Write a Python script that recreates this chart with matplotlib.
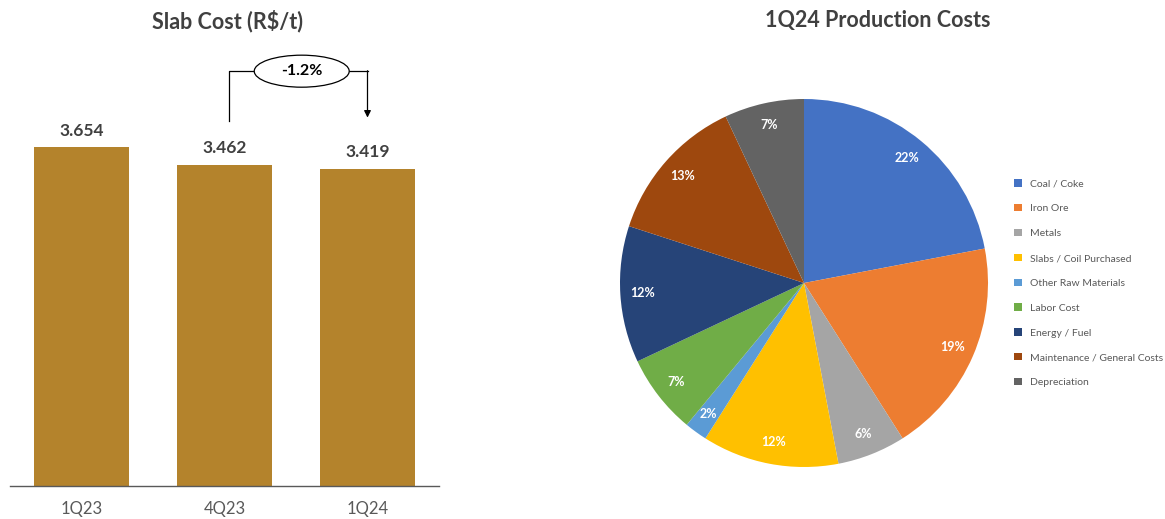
import matplotlib.pyplot as plt
from matplotlib.patches import Ellipse, Patch

plt.rcParams['font.family'] = ['Lato', 'DejaVu Sans']

# Slab cost, R$/t
quarters = ["1Q23", "4Q23", "1Q24"]
slab_cost = [3654, 3462, 3419]

# 1Q24 production cost breakdown, %
cost_items = ["Coal / Coke", "Iron Ore", "Metals", "Slabs / Coil Purchased",
              "Other Raw Materials", "Labor Cost", "Energy / Fuel",
              "Maintenance / General Costs", "Depreciation"]
cost_share = [22, 19, 6, 12, 2, 7, 12, 13, 7]
cost_colors = ["#4472C4", "#ED7D31", "#A5A5A5", "#FFC000", "#5B9BD5",
               "#70AD47", "#264478", "#9E480E", "#636363"]

W, H = 1165, 519
fig = plt.figure(figsize=(W / 100, H / 100), dpi=100)

# --- bar chart ---
ax = fig.add_axes([10 / W, 33 / H, 429 / W, 464 / H])
x = range(len(quarters))
ax.bar(x, slab_cost, width=0.66, color="#B4832C")
ax.set_xlim(-0.5, 2.5)
ax.set_ylim(0, 5000)
for xi, v in zip(x, slab_cost):
    ax.text(xi, v + 90, f"{v:,}".replace(",", "."), ha="center", va="bottom",
            fontsize=12.5, fontweight="bold", color="#404040")
ax.set_xticks(list(x))
ax.set_xticklabels(quarters, fontsize=12, color="#595959")
ax.tick_params(axis="x", length=0, pad=11)
ax.set_yticks([])
for s in ["top", "right", "left"]:
    ax.spines[s].set_visible(False)
ax.spines["bottom"].set_color("#595959")
ax.spines["bottom"].set_linewidth(1)

# change bracket 4Q23 -> 1Q24
change = (slab_cost[2] / slab_cost[1] - 1) * 100
y_top = 4470
ax.plot([1.03, 1.03, 1.21], [3930, y_top, y_top], color="black", lw=0.9)
ax.plot([1.87, 2.0], [y_top, y_top], color="black", lw=0.9)
ax.annotate("", xy=(2.0, 3970), xytext=(2.0, y_top + 5),
            arrowprops=dict(arrowstyle="-|>", color="black", lw=0.9,
                            mutation_scale=10, shrinkA=0, shrinkB=0))
ax.add_patch(Ellipse((1.54, y_top), 0.664, 345, facecolor="white",
                     edgecolor="black", lw=0.9, zorder=3))
ax.text(1.54, y_top, f"{change:.1f}%", ha="center", va="center", fontsize=11.5,
        fontweight="bold", color="black", zorder=4)

fig.text(228 / W, 1 - 21 / H, "Slab Cost (R$/t)", ha="center", va="center",
         fontsize=15.5, fontweight="bold", color="#404040")

# --- pie chart ---
pax = fig.add_axes([(804 - 184) / W, (519 - 283 - 184) / H, 368 / W, 368 / H])
wedges, _, autotexts = pax.pie(cost_share, colors=cost_colors, startangle=90,
                               counterclock=False, autopct="%.0f%%",
                               pctdistance=0.88,
                               wedgeprops=dict(linewidth=0))
for t in autotexts:
    t.set_color("white")
    t.set_fontsize(9)
    t.set_fontweight("bold")
pax.set_xlim(-1, 1)
pax.set_ylim(-1, 1)
pax.set_aspect("equal")

fig.text(878 / W, 1 - 21 / H, "1Q24 Production Costs", ha="center", va="center",
         fontsize=15.5, fontweight="bold", color="#404040")

handles = [Patch(facecolor=c, edgecolor="none") for c in cost_colors]
fig.legend(handles, cost_items, loc="upper left",
           bbox_to_anchor=(1005 / W, 1 - 170 / H), frameon=False,
           fontsize=7.5, labelcolor="#595959", handlelength=0.7,
           handleheight=0.7, handletextpad=0.8, labelspacing=1.49)

fig.savefig("out.png", dpi=100)
